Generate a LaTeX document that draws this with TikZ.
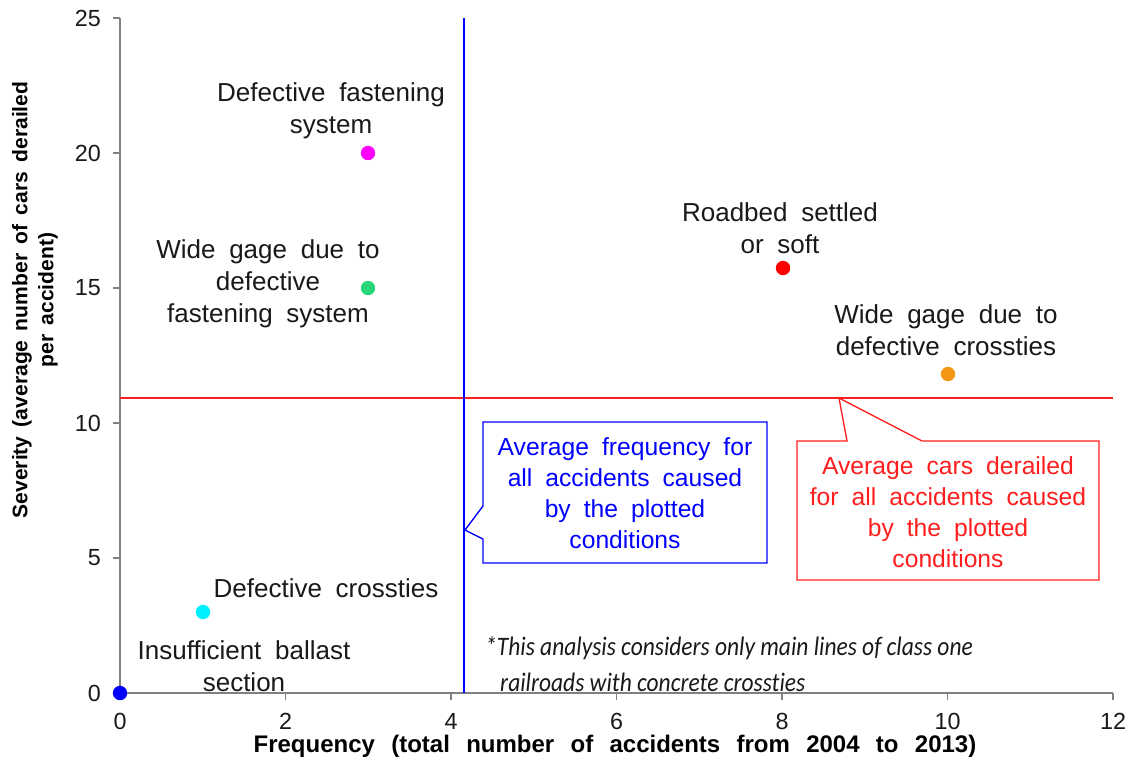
\documentclass[tikz,border=0pt]{standalone}
\usepackage{fontspec}
\setmainfont{Liberation Sans}[WordSpace={1.9}]
\newfontfamily\notefont{Carlito}[Ligatures={NoCommon}]
\newfontfamily\yttlfont{Liberation Sans}[WordSpace={1.6}]
\newcommand\xtitlefont{\bfseries\fontsize{18}{19.5}\selectfont\spaceskip=0.68em\relax}
\definecolor{axisgray}{RGB}{128,128,128}
\definecolor{ptblue}{RGB}{0,0,255}
\definecolor{ptcyan}{RGB}{0,240,255}
\definecolor{ptmag}{RGB}{255,0,255}
\definecolor{ptgreen}{RGB}{40,214,120}
\definecolor{ptred}{RGB}{255,0,0}
\definecolor{ptorange}{RGB}{245,150,20}
\definecolor{avgblue}{RGB}{0,0,255}
\definecolor{avgred}{RGB}{255,30,30}
\definecolor{txt}{RGB}{25,25,25}
\tikzset{
  axisline/.style={draw=axisgray,line width=1.3pt},
  tickline/.style={draw=axisgray,line width=1pt},
  ticklbl/.style={font=\fontsize{17.5}{20}\selectfont,inner sep=0pt,text=txt},
  dot/.style={circle,inner sep=0pt,minimum size=10.8pt,fill=#1},
  lbl/.style={align=center,inner sep=0pt,font=\fontsize{19.5}{24}\selectfont,text=txt},
  ttl/.style={align=center,inner sep=0pt,text=black},
  calltxt/.style={align=center,inner sep=0pt,font=\fontsize{18.5}{23.2}\selectfont},
  notetxt/.style={anchor=west,inner sep=0pt,xscale=0.88,font=\notefont\itshape\fontsize{20}{24}\selectfont,text=txt},
}
\begin{document}
\begin{tikzpicture}[x=0.75pt,y=-0.75pt]
\useasboundingbox[fill=white] (0,0) rectangle (1131,772);
% axes
\coordinate (o) at (120,693);
\coordinate (xend) at (1113,693);
\coordinate (ytop) at (120,18);
\draw[axisline] (ytop) -- (o) -- (xend);
\foreach \v in {0,2,...,12}{
  \draw[tickline] ({120+82.75*\v},693) -- ({120+82.75*\v},700);
  \node[ticklbl] (xt\v) at ({120+82.75*\v},721) {\v};
}
\foreach \v in {0,5,...,25}{
  \draw[tickline] (113,{693-27*\v}) -- (120,{693-27*\v});
  \node[ticklbl,anchor=east] (yt\v) at (101,{693-27*\v}) {\v};
}
% axis titles
\node[ttl,font=\xtitlefont] (xtitle) at (615,746) {Frequency (total number of accidents from 2004 to 2013)};
\node[ttl,rotate=90,font=\yttlfont\bfseries\fontsize{15.8}{19.5}\selectfont] (ytitle) at (35,300) {Severity (average number of cars derailed\\per accident)};
% average lines
\coordinate (vtop) at (464,18);
\coordinate (vbot) at (464,693);
\coordinate (hl) at (120,398);
\coordinate (hr) at (1113,398);
\draw[avgred,line width=1.5pt] (hl) -- (hr);
\draw[avgblue,line width=1.6pt] (vtop) -- (vbot);
% data points
\node[dot=ptblue] (p0) at (120,693) {};
\node[dot=ptcyan] (p1) at (203,612) {};
\node[dot=ptmag] (p2) at (368,153) {};
\node[dot=ptgreen] (p3) at (368,288) {};
\node[dot=ptred] (p4) at (783,268) {};
\node[dot=ptorange] (p5) at (948,374) {};
% point labels
\node[lbl] (l2) at (331,111) {Defective fastening\\system};
\node[lbl] (l3) at (268,284) {Wide gage due to\\defective\\fastening system};
\node[lbl] (l4) at (780,228) {Roadbed settled\\or soft};
\node[lbl] (l5) at (946,330) {Wide gage due to\\defective crossties};
\node[lbl] (l1) at (326,588) {Defective crossties};
\node[lbl] (l0) at (244,666) {Insufficient ballast\\section};
% blue callout
\draw[avgblue,fill=white,line width=1pt] (483,422) -- (767,422) -- (767,563) -- (483,563) -- (483,539) -- (465,530) -- (483,506) -- cycle;
\node[calltxt,text=avgblue] (cb) at (625,493) {Average frequency for\\all accidents caused\\by the plotted\\conditions};
% red callout
\draw[avgred,fill=white,line width=1pt] (797,441) -- (847,441) -- (839,398) -- (922,441) -- (1099,441) -- (1099,580) -- (797,580) -- cycle;
\node[calltxt,text=avgred] (cr) at (948,512) {Average cars derailed\\for all accidents caused\\by the plotted\\conditions};
% footnote
\node[notetxt] (n1) at (485,648) {*This analysis considers only main lines of class one};
\node[notetxt] (n2) at (500,682) {railroads with concrete crossties};
\end{tikzpicture}
\end{document}
